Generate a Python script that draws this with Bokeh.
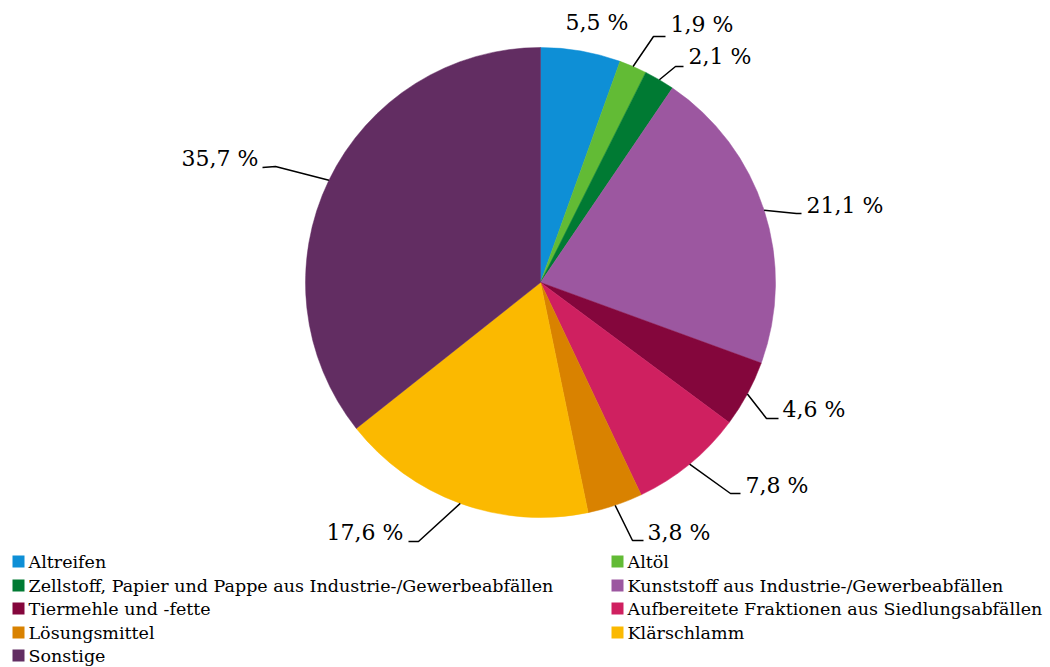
import math
from bokeh.plotting import figure
from bokeh.models import Range1d, ColumnDataSource
from bokeh.core.properties import value
from bokeh.embed import file_html
from bokeh.resources import INLINE

# ---------------- data ----------------
categories = [
    "Altreifen",
    "Altöl",
    "Zellstoff, Papier und Pappe aus Industrie-/Gewerbeabfällen",
    "Kunststoff aus Industrie-/Gewerbeabfällen",
    "Tiermehle und -fette",
    "Aufbereitete Fraktionen aus Siedlungsabfällen",
    "Lösungsmittel",
    "Klärschlamm",
    "Sonstige",
]
shares = [5.5, 1.9, 2.1, 21.1, 4.6, 7.8, 3.8, 17.6, 35.7]
share_labels = ["5,5 %", "1,9 %", "2,1 %", "21,1 %", "4,6 %", "7,8 %", "3,8 %", "17,6 %", "35,7 %"]
colors = ["#0e8fd6", "#62bb35", "#007a33", "#9c57a0", "#84063c",
          "#cf2060", "#d98200", "#fbb900", "#622d62"]

# ---------------- layout (pixel coordinates of the page) ----------------
W, H = 1050, 667
CX, CY, R = 540, 282, 235
FONT = "DejaVu Serif"

# label text anchor (x, y), alignment, leader elbow and leader end (None = no leader)
lab_pos = [(565, 22), (670, 24), (688, 56), (806, 205), (782, 409),
           (745, 485), (647, 532), (403, 532), (258, 158)]
lab_align = ["left", "left", "left", "left", "left", "left", "left", "right", "right"]
lab_elbow = [None, (653, 36), (675, 66), (796, 213), (766, 418),
             (730, 493), (632, 540), (418, 541), (275, 166)]
lab_end = [None, (665, 36), (683, 66), (801, 213), (778, 418),
           (740, 493), (643, 540), (408, 541), (262, 167)]

leg_x = [12, 611]
leg_rows = [561, 585, 608, 632, 655]
leg_sq = 12


def fy(y):
    return H - y


p = figure(width=W, height=H, output_backend="svg", toolbar_location=None,
           x_range=Range1d(0, W), y_range=Range1d(0, H), min_border=0)
p.axis.visible = False
p.grid.visible = False
p.outline_line_color = None
p.background_fill_color = "white"
p.border_fill_color = "white"

total = sum(shares)
cum = 0.0
starts, ends, mids = [], [], []
for s in shares:
    a0 = cum / total
    cum += s
    a1 = cum / total
    starts.append(math.pi / 2 - 2 * math.pi * a1)
    ends.append(math.pi / 2 - 2 * math.pi * a0)
    mids.append((a0 + a1) / 2)

src = ColumnDataSource(dict(x=[CX] * len(shares), y=[fy(CY)] * len(shares),
                            start=starts, end=ends, color=colors))
p.wedge(x="x", y="y", radius=R, start_angle="start", end_angle="end",
        fill_color="color", line_color="color", line_width=0.5, source=src)

# leaders and labels
for i, lab in enumerate(share_labels):
    if lab_elbow[i] is not None:
        ang = 2 * math.pi * mids[i]
        sx = CX + R * math.sin(ang)
        sy = CY - R * math.cos(ang)
        xs = [sx, lab_elbow[i][0], lab_end[i][0]]
        ys = [fy(sy), fy(lab_elbow[i][1]), fy(lab_end[i][1])]
        p.line(xs, ys, line_color="black", line_width=1.5)
    p.text(x=[lab_pos[i][0]], y=[fy(lab_pos[i][1])], text=[lab],
           text_font=value(FONT), text_font_size="22px", text_color="black",
           text_align=lab_align[i], text_baseline="middle")

# legend (two columns, row-major)
for i, cat in enumerate(categories):
    col = i % 2
    row = i // 2
    x0 = leg_x[col]
    y0 = leg_rows[row]
    p.rect(x=[x0 + leg_sq / 2], y=[fy(y0)], width=leg_sq, height=leg_sq,
           fill_color=colors[i], line_color=None)
    p.text(x=[x0 + leg_sq + 4], y=[fy(y0)], text=[cat],
           text_font=value(FONT), text_font_size="17.5px", text_color="black",
           text_align="left", text_baseline="middle")

open("out.html", "w").write(file_html(p, INLINE))
